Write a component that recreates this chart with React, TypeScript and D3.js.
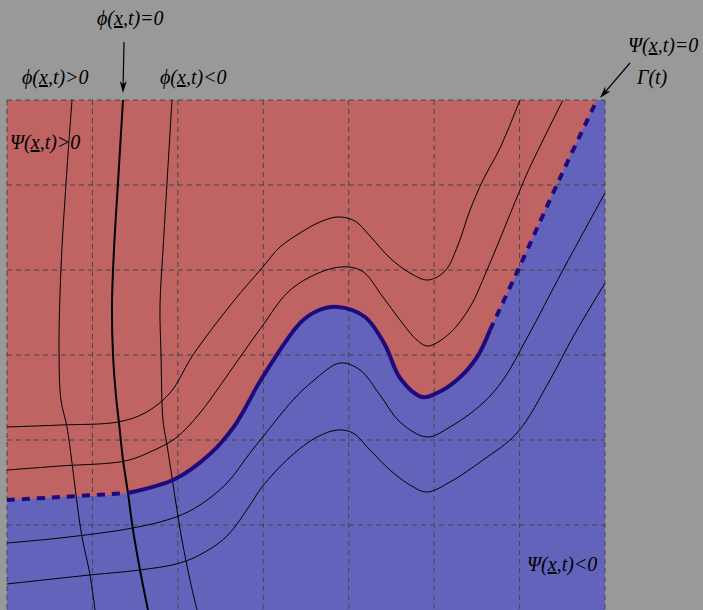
import React from "react";
import * as d3 from "d3";

type P = [number, number];

// Grid ticks (data units)
const xTicks = [0, 1, 2, 3, 4, 5, 6, 7];
const yTicks = [1, 2, 3, 4, 5, 6];

// Interface Γ(t): Ψ(x,t)=0
const gamma: P[] = [
  [0, 1.294], [0.62, 1.329], [1.416, 1.376], [1.967, 1.541], [2.376, 1.835], [2.669, 2.176],
  [2.985, 2.729], [3.43, 3.376], [3.629, 3.518], [3.875, 3.565], [4.191, 3.447], [4.425, 3.118],
  [4.601, 2.729], [4.858, 2.506], [5.033, 2.553], [5.267, 2.706], [5.502, 2.976],
  [5.654, 3.294], [5.982, 4.0], [6.473, 5.082], [6.906, 6.0],
];
const gammaSolidStart = 2;
const gammaSolidEnd = 17;

// Ψ level sets above the interface
const psiA: P[] = [
  [0, 2.153], [0.62, 2.176], [1.299, 2.212], [1.615, 2.318], [1.908, 2.553], [2.177, 3.0],
  [2.645, 3.624], [2.985, 4.024], [3.196, 4.271], [3.43, 4.435], [3.664, 4.565], [3.875, 4.624],
  [4.073, 4.576], [4.249, 4.4], [4.483, 4.141], [4.717, 3.965], [4.928, 3.882], [5.127, 3.988],
  [5.279, 4.294], [5.42, 4.706], [5.572, 5.059], [5.771, 5.435], [6.005, 6.0],
];
const psiB: P[] = [
  [0, 1.647], [0.62, 1.694], [1.381, 1.753], [1.674, 1.859], [1.978, 2.024], [2.259, 2.318],
  [2.458, 2.588], [2.763, 3.024], [2.997, 3.353], [3.278, 3.729], [3.547, 3.918], [3.898, 4.035],
  [4.155, 3.988], [4.401, 3.682], [4.6, 3.412], [4.799, 3.176], [4.928, 3.106], [5.186, 3.259],
  [5.42, 3.565], [5.619, 4.0], [6.005, 4.941], [6.122, 5.212], [6.508, 6.0],
];
// Ψ level sets below the interface
const psiC: P[] = [
  [0, 0.788], [0.62, 0.847], [1.475, 0.965], [1.978, 1.094], [2.259, 1.235], [2.575, 1.494],
  [2.844, 1.847], [2.985, 2.024], [3.348, 2.471], [3.582, 2.694], [3.898, 2.906], [4.132, 2.824],
  [4.366, 2.529], [4.6, 2.212], [4.916, 2.035], [5.186, 2.153], [5.572, 2.435],
  [5.806, 2.706], [6.087, 3.2], [6.508, 4.0], [7.0, 4.906],
];
const psiD: P[] = [
  [0, 0.306], [0.972, 0.412], [1.557, 0.471], [2.025, 0.553], [2.318, 0.682], [2.587, 0.882],
  [2.844, 1.235], [2.985, 1.447], [3.313, 1.8], [3.629, 2.035], [3.875, 2.118], [4.05, 2.082],
  [4.249, 1.882], [4.483, 1.647], [4.717, 1.471], [4.916, 1.388], [5.186, 1.506], [5.572, 1.765],
  [5.97, 2.082], [6.356, 2.706], [6.625, 3.212], [7.0, 3.847],
];

// φ level sets
const phiPos: P[] = [
  [0.761, 6], [0.691, 5.024], [0.632, 4.024], [0.609, 3.059], [0.632, 2.471], [0.702, 2.153],
  [0.761, 1.729], [0.831, 1.176], [0.878, 0.859], [0.972, 0.412], [1.03, 0],
];
const phiZero: P[] = [
  [1.358, 6], [1.299, 5.024], [1.252, 4.235], [1.229, 3.588], [1.241, 3.0], [1.276, 2.518],
  [1.311, 2.2], [1.358, 1.765], [1.416, 1.376], [1.475, 0.941], [1.557, 0.471], [1.65, 0],
];
const phiNeg: P[] = [
  [1.931, 6], [1.873, 5.024], [1.826, 4.235], [1.791, 3.588], [1.803, 3.0], [1.826, 2.235],
  [1.873, 1.941], [1.931, 1.565], [1.99, 1.176], [2.048, 0.824], [2.142, 0.353], [2.224, 0],
];

const BG = "#999999";
const RED = "#bf6363";
const BLUE = "#6363bc";
const NAVY = "#1f0a7d";
const GRID = "#474747";
const FONT = "'Liberation Serif', 'DejaVu Serif', serif";

function Label({ x, y, pre, post }: { x: number; y: number; pre: string; post: string }) {
  return (
    <text x={x} y={y} fontFamily={FONT} fontStyle="italic" fontSize={20} fill="#000">
      {pre}
      <tspan textDecoration="underline">x</tspan>
      {post}
    </text>
  );
}

function Arrow({ x1, y1, x2, y2 }: { x1: number; y1: number; x2: number; y2: number }) {
  const ang = Math.atan2(y2 - y1, x2 - x1);
  const len = 12;
  const w = 3.5;
  const bx = x2 - len * Math.cos(ang);
  const by = y2 - len * Math.sin(ang);
  const px = -Math.sin(ang) * w;
  const py = Math.cos(ang) * w;
  const nx = x2 - (len * 0.7) * Math.cos(ang);
  const ny = y2 - (len * 0.7) * Math.sin(ang);
  return (
    <g>
      <line x1={x1} y1={y1} x2={nx} y2={ny} stroke="#000" strokeWidth={1.2} />
      <path d={`M${x2},${y2}L${bx + px},${by + py}L${nx},${ny}L${bx - px},${by - py}Z`} fill="#000" />
    </g>
  );
}

export default function App() {
  const W = 703;
  const H = 610;
  const xs = d3.scaleLinear().domain([0, 7]).range([7, 605]);
  const ys = d3.scaleLinear().domain([0, 6]).range([610, 100]);
  const line = d3
    .line<P>()
    .x((d) => xs(d[0]))
    .y((d) => ys(d[1]))
    .curve(d3.curveCatmullRom.alpha(0.5));

  const redPath = `${line(gamma)}L${xs(0)},${ys(6)}Z`;
  const gLeft = gamma.slice(0, gammaSolidStart + 1);
  const gMid = gamma.slice(gammaSolidStart, gammaSolidEnd + 1);
  const gRight = gamma.slice(gammaSolidEnd);

  const x0 = xs(0), x1 = xs(7), y0 = ys(6), y1 = ys(0);

  return (
    <svg width={W} height={H} style={{ position: "absolute", left: 0, top: 0 }}>
      <defs>
        <clipPath id="plot">
          <rect x={x0} y={y0} width={x1 - x0} height={y1 - y0} />
        </clipPath>
      </defs>
      <rect x={0} y={0} width={W} height={H} fill={BG} />
      <g clipPath="url(#plot)">
        <rect x={x0} y={y0} width={x1 - x0} height={y1 - y0} fill={BLUE} />
        <path d={redPath} fill={RED} />
      </g>
      {/* grid */}
      <g stroke={GRID} strokeWidth={1} strokeDasharray="5,4" fill="none">
        {xTicks.map((t) => (
          <line key={"vx" + t} x1={xs(t)} x2={xs(t)} y1={y0} y2={y1} />
        ))}
        {yTicks.map((t) => (
          <line key={"hy" + t} x1={x0} x2={x1} y1={ys(t)} y2={ys(t)} />
        ))}
      </g>
      <g clipPath="url(#plot)" fill="none">
        {[psiA, psiB, psiC, psiD, phiPos, phiNeg].map((s, i) => (
          <path key={i} d={line(s) || ""} stroke="#000" strokeWidth={1} />
        ))}
        <path d={line(phiZero) || ""} stroke="#000" strokeWidth={2} />
        <path d={line(gMid) || ""} stroke={NAVY} strokeWidth={4} />
        <path d={line(gLeft) || ""} stroke={NAVY} strokeWidth={4} strokeDasharray="8,7" />
        <path d={line(gRight) || ""} stroke={NAVY} strokeWidth={4} strokeDasharray="8,7" />
      </g>
      {/* annotations */}
      <Label x={97} y={25} pre="ϕ(" post=",t)=0" />
      <Arrow x1={124} y1={42} x2={123} y2={93} />
      <Label x={22} y={84} pre="ϕ(" post=",t)>0" />
      <Label x={160} y={84} pre="ϕ(" post=",t)<0" />
      <Label x={10} y={149} pre="Ψ(" post=",t)>0" />
      <Label x={628} y={52} pre="Ψ(" post=",t)=0" />
      <text x={637} y={84} fontFamily={FONT} fontStyle="italic" fontSize={20} fill="#000">
        Γ(t)
      </text>
      <Arrow x1={630} y1={63} x2={600} y2={98} />
      <Label x={527} y={571} pre="Ψ(" post=",t)<0" />
    </svg>
  );
}
